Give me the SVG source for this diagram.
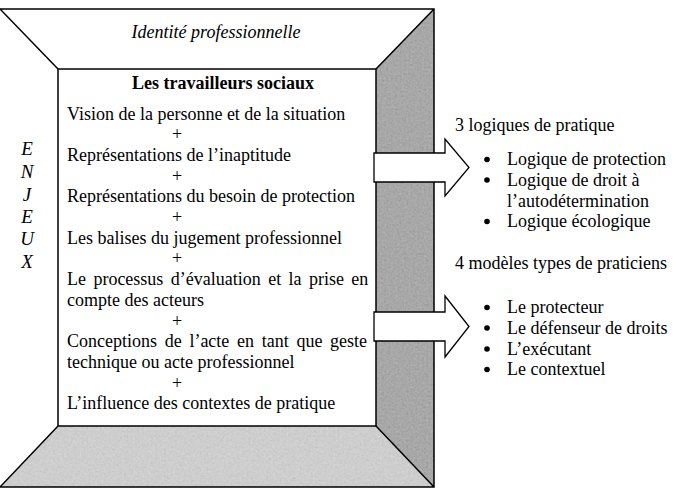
<svg xmlns="http://www.w3.org/2000/svg" width="674" height="491" viewBox="0 0 674 491">
<style>
  .t { font-family: "Liberation Serif", "Times New Roman", serif; font-size: 18px; fill: #000; }
  .it { font-family: "Liberation Serif", "Times New Roman", serif; font-style: italic; font-size: 18px; fill: #000; }
  .sc { font-family: "Liberation Serif", "Times New Roman", serif; font-style: italic; font-size: 19px; fill: #000; text-anchor: middle; }
  .b { font-weight: bold; text-anchor: middle; }
  .c { text-anchor: middle; }
  .ln { stroke: #000; stroke-width: 1.5; fill: none; }
  .arrow { fill: #fff; stroke: #000; stroke-width: 1.3; stroke-linejoin: miter; }
  .grain { opacity: 0.3; }
</style>
<defs>
  <filter id="noise" x="0" y="0" width="100%" height="100%">
    <feTurbulence type="fractalNoise" baseFrequency="0.45" numOctaves="4" seed="3" result="t"/>
    <feColorMatrix in="t" type="matrix" values="0.33 0.33 0.33 0 0  0.33 0.33 0.33 0 0  0.33 0.33 0.33 0 0  0 0 0 0 1"/>
  </filter>
  <clipPath id="clip-right"><polygon points="434,9 434,487 376,426 376,69"/></clipPath>
  <clipPath id="clip-bottom"><polygon points="58,426 376,426 434,487 0,487"/></clipPath>
</defs>
<rect width="674" height="491" fill="#fff"/>

<g id="frame">
  <polygon id="panel-top" points="0,9 434,9 376,69 58,69" fill="#fff"/>
  <polygon id="panel-left" points="0,9 58,69 58,426 0,487" fill="#fff"/>
  <polygon id="panel-right" points="434,9 434,487 376,426 376,69" fill="#a0a0a0"/>
  <rect class="grain" x="376" y="9" width="58" height="478" filter="url(#noise)" clip-path="url(#clip-right)"/>
  <polygon id="panel-bottom" points="58,426 376,426 434,487 0,487" fill="#d2d2d2"/>
  <rect class="grain" x="0" y="426" width="434" height="61" filter="url(#noise)" clip-path="url(#clip-bottom)" style="opacity:0.2"/>
  <path class="ln" d="M0,9 H434 V487 H0 M0,9 L58,69 M434,9 L376,69 M434,487 L376,426 M0,487 L58,426"/>
  <text class="it" x="216" y="38" text-anchor="middle">Identité professionnelle</text>
</g>

<g id="enjeux">
  <text class="sc" x="27" y="155">E</text>
  <text class="sc" x="27" y="178">N</text>
  <text class="sc" x="27" y="201">J</text>
  <text class="sc" x="27" y="223">E</text>
  <text class="sc" x="27" y="245">U</text>
  <text class="sc" x="27" y="268">X</text>
</g>

<g id="travailleurs">
  <rect x="58" y="69" width="318" height="357" fill="#fff" stroke="#000" stroke-width="1.5"/>
  <text class="t b" x="223" y="89">Les travailleurs sociaux</text>
  <text class="t" x="67" y="119.5">Vision de la personne et de la situation</text>
  <text class="t c" x="177" y="140.2">+</text>
  <text class="t" x="67" y="160.9">Représentations de l’inaptitude</text>
  <text class="t c" x="177" y="181.6">+</text>
  <text class="t" x="67" y="202.3">Représentations du besoin de protection</text>
  <text class="t c" x="177" y="223">+</text>
  <text class="t" x="67" y="243.7">Les balises du jugement professionnel</text>
  <text class="t c" x="177" y="264.4">+</text>
  <text class="t" x="67" y="285.1" word-spacing="2.9">Le processus d’évaluation et la prise en</text>
  <text class="t" x="67" y="305.8">compte des acteurs</text>
  <text class="t c" x="177" y="326.5">+</text>
  <text class="t" x="67" y="347.2" word-spacing="3.2">Conceptions de l’acte en tant que geste</text>
  <text class="t" x="67" y="367.9">technique ou acte professionnel</text>
  <text class="t c" x="177" y="388.6">+</text>
  <text class="t" x="67" y="409.3">L’influence des contextes de pratique</text>
</g>

<g id="connectors">
  <polygon class="arrow" points="374,153 445,153 445,139 469,167.5 445,196 445,182 374,182"/>
  <polygon class="arrow" points="374,312 445,312 445,296 469,326.5 445,357 445,341 374,341"/>
</g>

<g id="logiques">
  <text class="t" x="455" y="131">3 logiques de pratique</text>
  <circle cx="487" cy="159.5" r="2.8"/>
  <text class="t" x="507" y="165">Logique de protection</text>
  <circle cx="487" cy="180" r="2.8"/>
  <text class="t" x="507" y="185.5">Logique de droit à</text>
  <text class="t" x="507" y="206.5">l’autodétermination</text>
  <circle cx="487" cy="221.5" r="2.8"/>
  <text class="t" x="507" y="227">Logique écologique</text>
</g>

<g id="praticiens">
  <text class="t" x="455" y="269">4 modèles types de praticiens</text>
  <circle cx="487" cy="307.5" r="2.8"/>
  <text class="t" x="507" y="313">Le protecteur</text>
  <circle cx="487" cy="328" r="2.8"/>
  <text class="t" x="507" y="333.5">Le défenseur de droits</text>
  <circle cx="487" cy="349" r="2.8"/>
  <text class="t" x="507" y="354.5">L’exécutant</text>
  <circle cx="487" cy="369.5" r="2.8"/>
  <text class="t" x="507" y="375">Le contextuel</text>
</g>
</svg>
